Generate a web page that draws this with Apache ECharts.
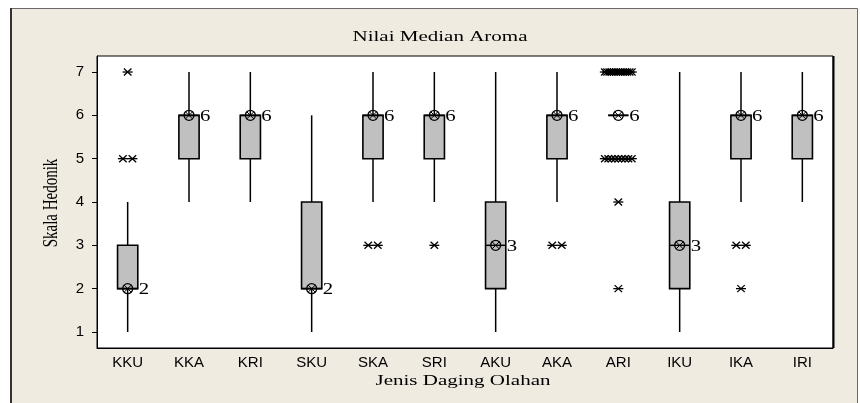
<!DOCTYPE html>
<html>
<head>
<meta charset="utf-8">
<script src="https://cdn.jsdelivr.net/npm/echarts@6/dist/echarts.min.js"></script>
<style>
  html, body { margin: 0; padding: 0; background: #fff; }
  #chart { width: 860px; height: 403px; }
</style>
</head>
<body>
<div id="chart"></div>
<script>
// Aroma hedonic scores per processed-meat type (five-number summaries + outliers)
const categories = ['KKU', 'KKA', 'KRI', 'SKU', 'SKA', 'SRI', 'AKU', 'AKA', 'ARI', 'IKU', 'IKA', 'IRI'];
const whiskerLow  = [1, 4, 4, 1, 4, 4, 1, 4, 6, 1, 4, 4];
const quart1      = [2, 5, 5, 2, 5, 5, 2, 5, 6, 2, 5, 5];
const medians     = [2, 6, 6, 2, 6, 6, 3, 6, 6, 3, 6, 6];
const quart3      = [3, 6, 6, 4, 6, 6, 4, 6, 6, 4, 6, 6];
const whiskerHigh = [4, 7, 7, 6, 7, 7, 7, 7, 6, 7, 7, 7];
const outliers = [
  [5, 5, 7],
  [],
  [],
  [],
  [3, 3],
  [3],
  [],
  [3, 3],
  [7, 7, 7, 7, 7, 7, 7, 7, 7, 7, 7, 7, 7, 5, 5, 5, 5, 5, 5, 5, 5, 5, 4, 2],
  [],
  [3, 3, 2],
  []
];
const yTicks = [1, 2, 3, 4, 5, 6, 7];

const titleText = 'Nilai Median Aroma';
const xTitle = 'Jenis Daging Olahan';
const yTitle = 'Skala Hedonik';

const boxRows = categories.map((c, i) =>
  [i, whiskerLow[i], quart1[i], medians[i], quart3[i], whiskerHigh[i]]);

// spread tied outliers sideways, like a tie-aware dot layout
const outlierRows = [];
outliers.forEach((vals, i) => {
  const counts = {};
  vals.forEach(v => { counts[v] = (counts[v] || 0) + 1; });
  const seen = {};
  vals.forEach(v => {
    seen[v] = (seen[v] || 0);
    outlierRows.push([i, v, seen[v], counts[v]]);
    seen[v]++;
  });
});

const serif = '"Liberation Serif", "Times New Roman", serif';
const sans = '"Liberation Sans", Arial, sans-serif';
const wide = 1.4; // horizontal stretch of the serif captions

const chart = echarts.init(document.getElementById('chart'), null, { renderer: 'canvas' });

chart.setOption({
  backgroundColor: '#ffffff',
  animation: false,
  grid: {
    left: 97, right: 27, top: 56, bottom: 55,
    show: true, backgroundColor: '#ffffff', borderColor: '#000', borderWidth: 1
  },
  xAxis: {
    type: 'category',
    data: categories,
    boundaryGap: true,
    axisLine: { lineStyle: { color: '#000', width: 1 } },
    axisTick: { alignWithLabel: true, length: 5, lineStyle: { color: '#000' } },
    axisLabel: { color: '#000', fontFamily: sans, fontSize: 15, margin: 7 },
    splitLine: { show: false }
  },
  yAxis: {
    type: 'value',
    min: 0.63, max: 7.37,
    axisLine: { show: true, lineStyle: { color: '#000', width: 1 } },
    axisTick: { show: true, length: 5, lineStyle: { color: '#000' }, customValues: yTicks },
    axisLabel: { color: '#000', fontFamily: sans, fontSize: 15, margin: 13, customValues: yTicks },
    splitLine: { show: false }
  },
  graphic: [
    {
      type: 'rect', z: -10, silent: true,
      shape: { x: 10.5, y: 8.5, width: 847, height: 400 },
      style: { fill: '#EFEBE1', stroke: '#6a6a6a', lineWidth: 1 }
    },
    {
      type: 'line', z: -9, silent: true,
      shape: { x1: 11, y1: 8, x2: 11, y2: 403 },
      style: { stroke: '#333', lineWidth: 2 }
    },
    // right edge of the plot frame is drawn heavier
    {
      type: 'line', z: 10, silent: true,
      shape: { x1: 833.5, y1: 56, x2: 833.5, y2: 348 },
      style: { stroke: '#000', lineWidth: 2 }
    },
    {
      type: 'text', x: 440, y: 37, scaleX: wide,
      style: { text: titleText, font: '15px ' + serif, fill: '#000', align: 'center', verticalAlign: 'middle' }
    },
    {
      type: 'text', x: 463, y: 381, scaleX: wide,
      style: { text: xTitle, font: '15px ' + serif, fill: '#000', align: 'center', verticalAlign: 'middle' }
    },
    {
      type: 'text', x: 51, y: 203, rotation: Math.PI / 2, scaleY: wide,
      style: { text: yTitle, font: '15px ' + serif, fill: '#000', align: 'center', verticalAlign: 'middle' }
    }
  ],
  series: [
    {
      type: 'custom',
      name: 'box',
      data: boxRows,
      encode: { x: 0, y: [1, 2, 3, 4, 5] },
      renderItem: function (params, api) {
        const i = api.value(0);
        const pLow = api.coord([i, api.value(1)]);
        const pQ1 = api.coord([i, api.value(2)]);
        const pMed = api.coord([i, api.value(3)]);
        const pQ3 = api.coord([i, api.value(4)]);
        const pHigh = api.coord([i, api.value(5)]);
        const bw = api.size([1, 0])[0] * 0.33;
        const cx = pMed[0];
        const r = 5;
        const d = r * 0.72;
        const med = api.value(3);
        return {
          type: 'group',
          children: [
            { type: 'line', shape: { x1: cx, y1: pHigh[1], x2: cx, y2: pQ3[1] },
              style: { stroke: '#000', lineWidth: 1.5 } },
            { type: 'line', shape: { x1: cx, y1: pQ1[1], x2: cx, y2: pLow[1] },
              style: { stroke: '#000', lineWidth: 1.5 } },
            { type: 'rect', shape: { x: cx - bw / 2, y: pQ3[1], width: bw, height: pQ1[1] - pQ3[1] },
              style: { fill: '#C0C0C0', stroke: '#000', lineWidth: 1.6 } },
            { type: 'line', shape: { x1: cx - bw / 2, y1: pMed[1], x2: cx + bw / 2, y2: pMed[1] },
              style: { stroke: '#000', lineWidth: 1.5 } },
            { type: 'circle', shape: { cx: cx, cy: pMed[1], r: r },
              style: { fill: 'none', stroke: '#000', lineWidth: 1.3 } },
            { type: 'line', shape: { x1: cx - d, y1: pMed[1] - d, x2: cx + d, y2: pMed[1] + d },
              style: { stroke: '#000', lineWidth: 1 } },
            { type: 'line', shape: { x1: cx - d, y1: pMed[1] + d, x2: cx + d, y2: pMed[1] - d },
              style: { stroke: '#000', lineWidth: 1 } },
            { type: 'text', x: cx + 11, y: pMed[1] + 1, scaleX: 1.3,
              style: { text: String(med), font: '16px ' + serif, fill: '#000',
                       align: 'left', verticalAlign: 'middle' } }
          ]
        };
      }
    },
    {
      type: 'custom',
      name: 'outliers',
      data: outlierRows,
      encode: { x: 0, y: 1 },
      renderItem: function (params, api) {
        const p = api.coord([api.value(0), api.value(1)]);
        const rank = api.value(2);
        const n = api.value(3);
        const step = n > 1 ? Math.min(9.5, 27 / (n - 1)) : 0;
        const x = p[0] + (rank - (n - 1) / 2) * step;
        const y = p[1];
        const hw = 5, hh = 3.5;
        return {
          type: 'group',
          children: [
            { type: 'line', shape: { x1: x - hw, y1: y, x2: x + hw, y2: y },
              style: { stroke: '#000', lineWidth: 1.3 } },
            { type: 'line', shape: { x1: x - hw * 0.75, y1: y - hh, x2: x + hw * 0.75, y2: y + hh },
              style: { stroke: '#000', lineWidth: 1.3 } },
            { type: 'line', shape: { x1: x - hw * 0.75, y1: y + hh, x2: x + hw * 0.75, y2: y - hh },
              style: { stroke: '#000', lineWidth: 1.3 } }
          ]
        };
      }
    }
  ]
});
</script>
</body>
</html>
